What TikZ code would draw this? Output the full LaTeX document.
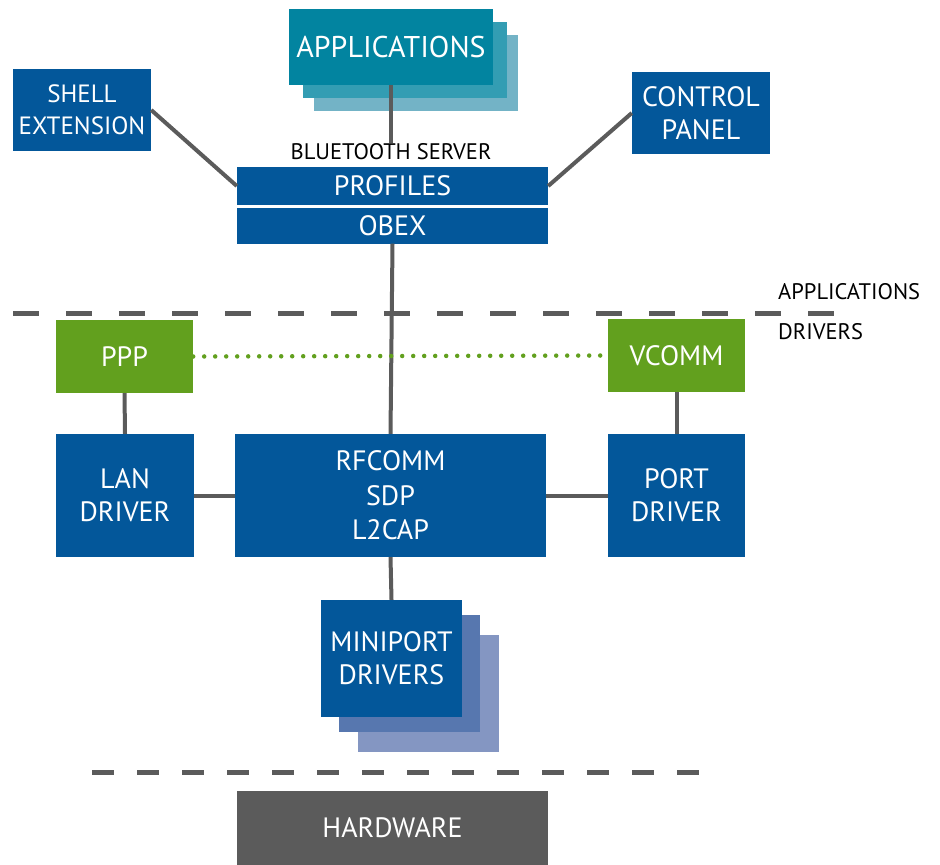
\documentclass[tikz,border=0pt]{standalone}
\usepackage{fontspec}
\setmainfont{PT Sans}
\definecolor{btblue}{HTML}{03579A}
\definecolor{btteal}{HTML}{0284A0}
\definecolor{btteallight}{HTML}{339DB3}
\definecolor{bttealpale}{HTML}{73B3C6}
\definecolor{btbluemid}{HTML}{5777AF}
\definecolor{btbluepale}{HTML}{8496C2}
\definecolor{btgreen}{HTML}{62A01E}
\definecolor{btgray}{HTML}{5B5B5B}

\begin{document}
\begin{tikzpicture}[x = 1pt, y = -1pt]
\tikzstyle{BoxStyle}=[
shape = rectangle,
fill = btblue,
text = white,
inner sep = 0pt,
align = center,
font = \fontsize{28}{33}\selectfont]
\tikzstyle{LinkStyle}=[
draw = btgray,
line width = 4pt]
\tikzstyle{LayerStyle}=[
draw = btgray,
line width = 5pt]
\tikzstyle{LayerLabel}=[
anchor = west,
inner sep = 0pt,
font = \fontsize{22.5}{24}\selectfont]
\useasboundingbox (0, 0) rectangle (940, 865);
% layer separators
\draw[LayerStyle, dash pattern = on 26pt off 27pt] (13, 313) -- (835, 313);
\draw[LayerStyle, dash pattern = on 22pt off 23pt] (92, 772) -- (706, 772);
\node[LayerLabel] (lapps) at (778, 292) {APPLICATIONS};
\node[LayerLabel] (ldrivers) at (778, 332) {DRIVERS};
% applications stack
\node[BoxStyle, fill = bttealpale, minimum width = 204pt, minimum height = 76pt] (app3) at (416, 73) {};
\node[BoxStyle, fill = btteallight, minimum width = 204pt, minimum height = 76pt] (app2) at (405, 60) {};
\node[BoxStyle, fill = btteal, minimum width = 204pt, minimum height = 76pt, font = \fontsize{30}{33}\selectfont] (app) at (391, 47) {APPLICATIONS};
\node[BoxStyle, minimum width = 138pt, minimum height = 82pt, font = \fontsize{25}{32}\selectfont] (shell) at (82, 110) {SHELL\\EXTENSION};
\node[BoxStyle, minimum width = 138pt, minimum height = 82pt] (panel) at (701, 113) {CONTROL\\PANEL};
\node[inner sep = 1pt, font = \fontsize{22.5}{24}\selectfont] (server) at (391, 152) {BLUETOOTH SERVER};
\node[BoxStyle, minimum width = 311pt, minimum height = 38pt] (profiles) at (392.5, 186) {PROFILES};
\node[BoxStyle, minimum width = 311pt, minimum height = 36pt] (obex) at (392.5, 225.5) {OBEX};
% drivers
\node[BoxStyle, fill = btgreen, minimum width = 137pt, minimum height = 73pt] (ppp) at (124.5, 356.5) {PPP};
\node[BoxStyle, fill = btgreen, minimum width = 137pt, minimum height = 73pt] (vcomm) at (676.5, 355.5) {VCOMM};
\node[BoxStyle, minimum width = 138pt, minimum height = 123pt] (lan) at (125, 495.5) {LAN\\DRIVER};
\node[BoxStyle, minimum width = 311pt, minimum height = 123pt, font = \fontsize{28}{34.5}\selectfont] (rfcomm) at (390.5, 495.5) {RFCOMM\\SDP\\L2CAP};
\node[BoxStyle, minimum width = 137pt, minimum height = 123pt] (port) at (676.5, 495.5) {PORT\\DRIVER};
\node[BoxStyle, fill = btbluepale, minimum width = 141pt, minimum height = 117pt] (mini3) at (428, 693.5) {};
\node[BoxStyle, fill = btbluemid, minimum width = 141pt, minimum height = 117pt] (mini2) at (409, 673.5) {};
\node[BoxStyle, minimum width = 141pt, minimum height = 117pt] (mini) at (391.5, 658.5) {MINIPORT\\DRIVERS};
\node[BoxStyle, fill = btgray, minimum width = 311pt, minimum height = 74pt] (hw) at (392.5, 828) {HARDWARE};
% links
\draw[LinkStyle] (app.south) -- (server.north);
\draw[LinkStyle] (shell.east) -- (profiles.west);
\draw[LinkStyle] (panel.west) -- (profiles.east);
\draw[LinkStyle] (obex.south) -- (rfcomm.north);
\draw[LinkStyle] (ppp.south) -- (lan.north);
\draw[LinkStyle] (vcomm.south) -- (port.north);
\draw[LinkStyle] (lan.east) -- (rfcomm.west);
\draw[LinkStyle] (rfcomm.east) -- (port.west);
\draw[LinkStyle] (rfcomm.south) -- (mini.north);
\draw[draw = btgreen, line width = 4.5pt, line cap = round, dash pattern = on 0pt off 11pt] (ppp.east) -- (vcomm.west);
\end{tikzpicture}
\end{document}
